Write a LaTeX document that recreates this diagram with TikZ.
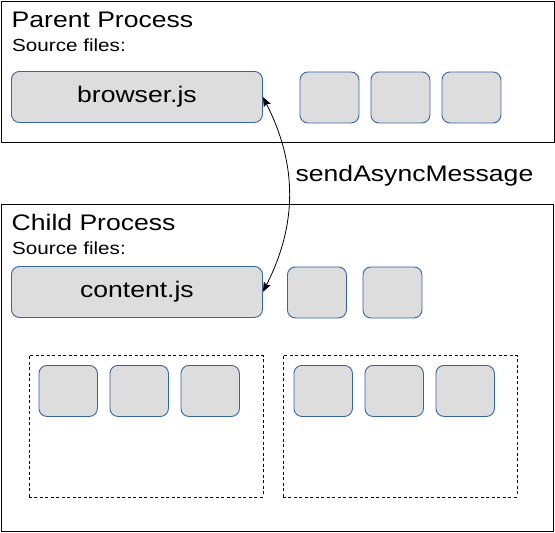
\documentclass[tikz,border=0pt]{standalone}
\usepackage{fontspec}
\setmainfont{Liberation Sans}[FakeStretch=1.18]
\usetikzlibrary{arrows.meta}
\definecolor{filefill}{HTML}{DDDDDD}
\definecolor{fileline}{HTML}{3465A4}
\tikzset{
  srcfile/.style={draw=fileline, fill=filefill, line width=0.9pt, rounded corners=8pt,
    inner sep=0pt, anchor=north west, minimum width=59pt, minimum height=51pt},
  bigfile/.style={srcfile, minimum width=251pt, font=\fontsize{22.5}{26}\selectfont},
  process/.style={draw=black, line width=1.2pt, inner sep=0pt, anchor=north west},
  group/.style={draw=black, line width=0.9pt, dash pattern=on 3pt off 2.5pt,
    inner sep=0pt, anchor=north west, minimum height=141.5pt, minimum width=234pt},
  title/.style={anchor=base west, inner sep=0pt, font=\fontsize{22.5}{26}\selectfont},
  sub/.style={anchor=base west, inner sep=0pt, font=\fontsize{17.5}{21}\selectfont},
}
\begin{document}
\begin{tikzpicture}[x=1pt, y=-1pt]
  \useasboundingbox (0,0) rectangle (555,533);

  % parent process
  \node[process, minimum width=553pt, minimum height=141pt] (parent) at (1,1) {};
  \node[title] (parenttitle) at (11.5,27.5) {Parent Process};
  \node[sub] (parentsrc) at (12,51) {Source files:};
  \node[bigfile] (browser) at (11,71) {browser.js};
  \foreach \x [count=\i] in {299.5,370.5,441.5}
    \node[srcfile] (pfile\i) at (\x,71.5) {};

  % child process
  \node[process, minimum width=552pt, minimum height=327pt] (child) at (1,204) {};
  \node[title] (childtitle) at (11.5,230.5) {Child Process};
  \node[sub] (childsrc) at (12,254) {Source files:};
  \node[bigfile] (content) at (11,266) {content.js};
  \foreach \x [count=\i] in {287,362.5}
    \node[srcfile] (cfile\i) at (\x,266.5) {};

  % groups inside the child
  \node[group] (groupa) at (28.5,355) {};
  \node[group] (groupb) at (282.5,355) {};
  \foreach \x [count=\i] in {38.5,109.5,180.5}
    \node[srcfile, minimum width=58.5pt] (afile\i) at (\x,365) {};
  \foreach \x [count=\i] in {293.5,364.5,435.5}
    \node[srcfile, minimum width=58.5pt] (bfile\i) at (\x,365) {};

  % message
  \draw[{Stealth[length=9.5pt,width=7.5pt,inset=1.5pt]}-{Stealth[length=9.5pt,width=7.5pt,inset=1.5pt]}, line width=0.8pt]
    (browser.east) to[bend left=27] (content.east);
  \node[title] (msg) at (295.5,181) {sendAsyncMessage};
\end{tikzpicture}
\end{document}
